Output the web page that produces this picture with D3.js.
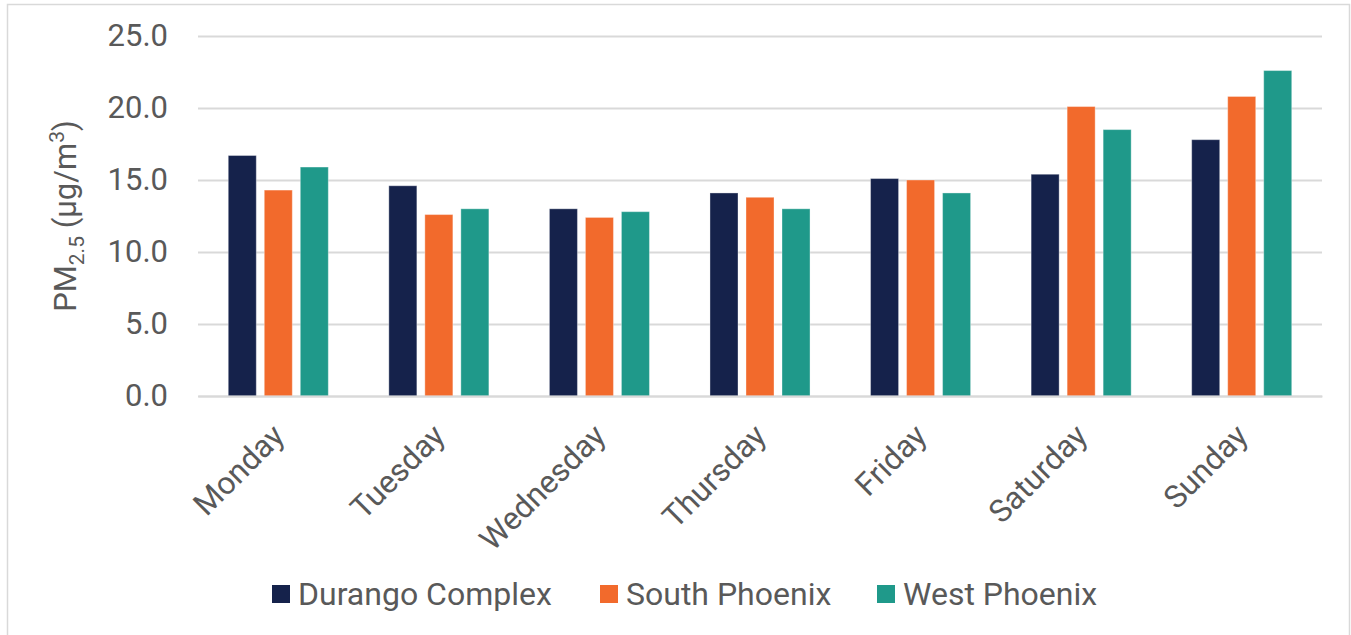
<!DOCTYPE html>
<meta charset="utf-8">
<style>
body { margin: 0; background: #fff; }
text { font-family: Roboto, "Open Sans", sans-serif; fill: #595959; }
</style>
<svg width="1351" height="635"></svg>
<script src="https://cdn.jsdelivr.net/npm/d3@7"></script>
<script>

var days = ["Monday", "Tuesday", "Wednesday", "Thursday", "Friday", "Saturday", "Sunday"];
var sites = ["Durango Complex", "South Phoenix", "West Phoenix"];
var durango = [16.7, 14.6, 13.0, 14.1, 15.1, 15.4, 17.8];
var southPhx = [14.3, 12.6, 12.4, 13.8, 15.0, 20.1, 20.8];
var westPhx = [15.9, 13.0, 12.8, 13.0, 14.1, 18.5, 22.6];
var yTicks = [0, 5, 10, 15, 20, 25];
var colors = ["#15224b", "#f26a2c", "#1f998a"];

var seriesValues = [durango, southPhx, westPhx];
var rows = days.map(function(d, i) {
  var r = {day: d};
  sites.forEach(function(s, j) { r[s] = seriesValues[j][i]; });
  return r;
});

var svg = d3.select("svg"),
    plot = {left: 198, right: 1322, top: 36, bottom: 396};

// chart frame
svg.append("rect")
    .attr("x", 7.5).attr("y", 4.5)
    .attr("width", 1342).attr("height", 640)
    .attr("fill", "none")
    .attr("stroke", "#d9d9d9")
    .attr("stroke-width", 1.5);

var x0 = d3.scaleBand()
    .domain(days)
    .range([plot.left, plot.right])
    .paddingInner(0.377)
    .paddingOuter(0.1885);

var x1 = d3.scaleBand()
    .domain(sites)
    .range([0, x0.bandwidth()])
    .paddingInner(0.222);

var y = d3.scaleLinear()
    .domain([0, 25])
    .range([plot.bottom, plot.top]);

var color = d3.scaleOrdinal().domain(sites).range(colors);

// gridlines + y labels
var yAxis = svg.append("g")
    .attr("transform", "translate(" + plot.left + ",0)")
    .call(d3.axisLeft(y)
      .tickValues(yTicks)
      .tickSize(-(plot.right - plot.left))
      .tickPadding(30)
      .tickFormat(d3.format(".1f")));
yAxis.select(".domain").remove();
yAxis.selectAll(".tick line")
    .attr("stroke", "#d9d9d9")
    .attr("stroke-width", 2);
yAxis.selectAll(".tick text")
    .attr("font-size", 31)
    .attr("fill", "#595959");

// bars
svg.append("g")
  .selectAll("g")
  .data(rows)
  .join("g")
    .attr("transform", function(d) { return "translate(" + x0(d.day) + ",0)"; })
  .selectAll("rect")
  .data(function(d) { return sites.map(function(s) { return {key: s, value: d[s]}; }); })
  .join("rect")
    .attr("x", function(d) { return x1(d.key); })
    .attr("y", function(d) { return y(d.value); })
    .attr("width", x1.bandwidth())
    .attr("height", function(d) { return y(0) - y(d.value); })
    .attr("fill", function(d) { return color(d.key); })
    .attr("stroke", "#ffffff")
    .attr("stroke-opacity", 0.35)
    .attr("stroke-width", 1);

// x axis line
var xAxis = svg.append("g")
    .attr("transform", "translate(0," + plot.bottom + ")")
    .call(d3.axisBottom(x0).tickSize(0).tickPadding(0));
xAxis.select(".domain")
    .attr("stroke", "#d9d9d9")
    .attr("stroke-width", 2);
xAxis.selectAll(".tick text")
    .attr("font-size", 31.5)
    .attr("fill", "#595959")
    .attr("text-anchor", "end")
    .attr("dy", "0.35em")
    .attr("transform", "translate(0,34) rotate(-45)");

// y axis title
var yTitle = svg.append("text")
    .attr("transform", "translate(76," + ((plot.top + plot.bottom) / 2) + ") rotate(-90)")
    .attr("text-anchor", "middle")
    .attr("font-size", 31);
yTitle.append("tspan").text("PM");
yTitle.append("tspan").attr("font-size", 21).attr("dy", 8).text("2.5");
yTitle.append("tspan").attr("dy", -8).text(" (µg/m");
yTitle.append("tspan").attr("font-size", 21).attr("dy", -12).text("3");
yTitle.append("tspan").attr("dy", 12).text(")");

// legend
var legendX = [272, 600, 877];
var legend = svg.append("g")
  .selectAll("g")
  .data(sites)
  .join("g")
    .attr("transform", function(d, i) { return "translate(" + legendX[i] + ",585)"; });
legend.append("rect")
    .attr("width", 18).attr("height", 18)
    .attr("fill", function(d) { return color(d); });
legend.append("text")
    .attr("x", 26).attr("y", 9)
    .attr("dy", "0.35em")
    .attr("font-size", 32)
    .text(function(d) { return d; });

</script>
